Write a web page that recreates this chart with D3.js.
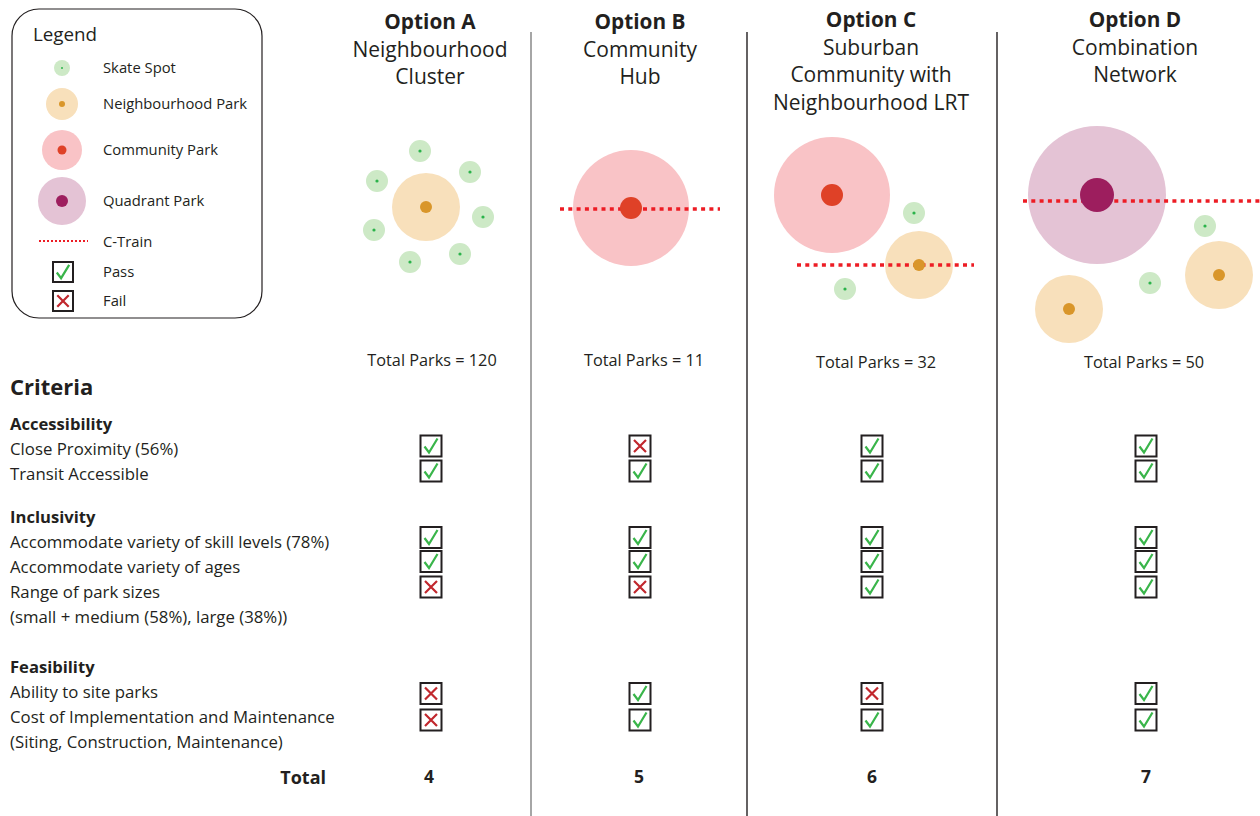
<!DOCTYPE html>
<html><head><meta charset="utf-8">
<script src="https://cdn.jsdelivr.net/npm/d3@7"></script>
<style>body{margin:0;background:#fff} svg{display:block} text{font-family:"Open Sans",sans-serif;fill:#231f20}</style>
</head><body><svg id="c" width="1260" height="816"></svg>
<script>
// ---------- DATA ----------
const options = ["Option A", "Option B", "Option C", "Option D"];
const optionSubtitles = [
  ["Neighbourhood", "Cluster"],
  ["Community", "Hub"],
  ["Suburban", "Community with", "Neighbourhood LRT"],
  ["Combination", "Network"]
];
const totalParks = [120, 11, 32, 50];
const totals = [4, 5, 6, 7];
const criteriaGroups = ["Accessibility", "Inclusivity", "Feasibility"];
const criteria = [
  { group: 0, label: "Close Proximity (56%)" },
  { group: 0, label: "Transit Accessible" },
  { group: 1, label: "Accommodate variety of skill levels (78%)" },
  { group: 1, label: "Accommodate variety of ages" },
  { group: 1, label: "Range of park sizes", note: "(small + medium (58%), large (38%))" },
  { group: 2, label: "Ability to site parks" },
  { group: 2, label: "Cost of Implementation and Maintenance", note: "(Siting, Construction, Maintenance)" }
];
// 1 = Pass, 0 = Fail  (rows = options, cols = criteria)
const results = [
  [1, 1, 1, 1, 0, 0, 0],
  [0, 1, 1, 1, 0, 1, 1],
  [1, 1, 1, 1, 1, 0, 1],
  [1, 1, 1, 1, 1, 1, 1]
];
const parkTypes = ["Skate Spot", "Neighbourhood Park", "Community Park", "Quadrant Park"];
// schematic park layout per option, in diagram units (x: offset from column centre, y: diagram row)
const parkLayouts = [
  [{t:1,x:-5,y:207},{t:0,x:-11,y:151},{t:0,x:39,y:172},{t:0,x:-54,y:181},{t:0,x:52,y:217},{t:0,x:-57,y:230},{t:0,x:29,y:254},{t:0,x:-21,y:262}],
  [{t:2,x:-9,y:208}],
  [{t:2,x:-40,y:195},{t:0,x:42,y:213},{t:1,x:47,y:265},{t:0,x:-27,y:289}],
  [{t:3,x:-49,y:195},{t:0,x:59,y:226},{t:1,x:73,y:275},{t:0,x:4,y:283},{t:1,x:-77,y:309}]
];
const cTrainLines = [null, {x1:-80,x2:80,y:209}, {x1:-75,x2:102,y:265}, {x1:-123,x2:114,y:201}];

// ---------- STYLE / LAYOUT ----------
const svg = d3.select("#c");
const fillColors = ["#cde9c6", "#f8e0bb", "#f9c3c6", "#e4c3d5"];
const dotColors = ["#2bb34a", "#d9962a", "#df4127", "#9d1e5e"];
const outerR = [11, 34, 58, 69], innerR = [1.6, 6, 11, 17];
const legendOuterR = [8, 16, 20, 24], legendInnerR = [1, 3, 4.5, 6];
const green = "#39b54a", red = "#c1272d";

const colX = d3.scaleOrdinal().domain(options).range([431, 640, 872, 1146]);
const titleX = d3.scaleOrdinal().domain(options).range([430, 640, 871, 1135]);
const dividers = [531, 747, 997];
const diagX = d3.scaleLinear().domain([-200, 200]).range([-200, 200]);
const diagY = d3.scaleLinear().domain([0, 816]).range([0, 816]);

// dividers
svg.selectAll("line.div").data(dividers).join("line")
  .attr("x1", d => d).attr("x2", d => d).attr("y1", 32).attr("y2", 816)
  .attr("stroke", (d, i) => i === 0 ? "#808080" : "#231f20").attr("stroke-width", 1.4);

// checkbox helper
function checkbox(g, cx, cy, pass, s) {
  s = s || 21;
  g.append("rect").attr("x", cx - s / 2).attr("y", cy - s / 2).attr("width", s).attr("height", s)
    .attr("fill", "#fff").attr("stroke", "#231f20").attr("stroke-width", 2);
  const k = s / 21;
  if (pass) {
    g.append("path").attr("d", `M${cx - 6.5 * k},${cy + 0.5 * k} L${cx - 2 * k},${cy + 6.5 * k} L${cx + 6.5 * k},${cy - 7.5 * k}`)
      .attr("fill", "none").attr("stroke", green).attr("stroke-width", 2.2).attr("stroke-linejoin", "miter");
  } else {
    g.append("path").attr("d", `M${cx - 6 * k},${cy - 6 * k} L${cx + 6 * k},${cy + 6 * k} M${cx + 6 * k},${cy - 6 * k} L${cx - 6 * k},${cy + 6 * k}`)
      .attr("fill", "none").attr("stroke", red).attr("stroke-width", 2.2);
  }
}

// ---------- LEGEND ----------
const lg = svg.append("g");
lg.append("rect").attr("x", 12).attr("y", 9).attr("width", 250).attr("height", 309).attr("rx", 27)
  .attr("fill", "none").attr("stroke", "#231f20").attr("stroke-width", 1.2);
lg.append("text").attr("x", 33).attr("y", 41).attr("font-size", 18.8).text("Legend");
const legendY = [68, 104, 150, 201];
parkTypes.forEach((p, i) => {
  lg.append("circle").attr("cx", 62).attr("cy", legendY[i]).attr("r", legendOuterR[i]).attr("fill", fillColors[i]);
  lg.append("circle").attr("cx", 62).attr("cy", legendY[i]).attr("r", legendInnerR[i]).attr("fill", dotColors[i]);
  lg.append("text").attr("x", 103).attr("y", legendY[i]).attr("dy", "0.35em").attr("font-size", 14.8).text(p);
});
lg.append("line").attr("x1", 39).attr("x2", 88).attr("y1", 241).attr("y2", 241)
  .attr("stroke", "#ed1c24").attr("stroke-width", 2).attr("stroke-dasharray", "2,2");
lg.append("text").attr("x", 103).attr("y", 242).attr("dy", "0.35em").attr("font-size", 14.8).text("C-Train");
checkbox(lg, 63, 272, true, 20);
lg.append("text").attr("x", 103).attr("y", 272).attr("dy", "0.35em").attr("font-size", 14.8).text("Pass");
checkbox(lg, 63, 301, false, 20);
lg.append("text").attr("x", 103).attr("y", 301).attr("dy", "0.35em").attr("font-size", 14.8).text("Fail");

// ---------- OPTION HEADERS & DIAGRAMS ----------
const titleY = [22, 22, 20, 20];
const totalY = [360, 360, 362, 362];
const totalParkX = [432, 644, 876, 1144];
options.forEach((o, i) => {
  const g = svg.append("g");
  const tx = titleX(o);
  g.append("text").attr("x", tx).attr("y", titleY[i]).attr("dy", "0.35em").attr("text-anchor", "middle")
    .attr("font-size", 20.8).attr("font-weight", 700).text(o);
  optionSubtitles[i].forEach((s, j) => {
    g.append("text").attr("x", tx).attr("y", titleY[i] + 27.5 * (j + 1)).attr("dy", "0.35em").attr("text-anchor", "middle")
      .attr("font-size", 21).text(s);
  });
  const cx = colX(o);
  const parks = parkLayouts[i];
  g.selectAll("circle.fill").data(parks).join("circle").attr("class", "fill")
    .attr("cx", d => cx + diagX(d.x)).attr("cy", d => diagY(d.y)).attr("r", d => outerR[d.t]).attr("fill", d => fillColors[d.t]);
  const ct = cTrainLines[i];
  if (ct) {
    g.append("line").attr("x1", cx + diagX(ct.x1)).attr("x2", cx + diagX(ct.x2)).attr("y1", diagY(ct.y)).attr("y2", diagY(ct.y))
      .attr("stroke", "#ed1c24").attr("stroke-width", 3.5).attr("stroke-dasharray", "4,4.3");
  }
  g.selectAll("circle.dot").data(parks).join("circle").attr("class", "dot")
    .attr("cx", d => cx + diagX(d.x)).attr("cy", d => diagY(d.y)).attr("r", d => innerR[d.t]).attr("fill", d => dotColors[d.t]);
  g.append("text").attr("x", totalParkX[i]).attr("y", totalY[i]).attr("dy", "0.35em").attr("text-anchor", "middle")
    .attr("font-size", 16.3).text(`Total Parks = ${totalParks[i]}`);
});

// ---------- CRITERIA ----------
svg.append("text").attr("x", 10).attr("y", 387).attr("dy", "0.35em").attr("font-size", 22).attr("font-weight", 700).text("Criteria");
const groupHeaderY = [424, 517, 667];
const lineStep = 25;
const rowY = [];
criteria.forEach((c, k) => {
  let y = groupHeaderY[c.group];
  criteria.slice(0, k).filter(p => p.group === c.group).forEach(p => { y += lineStep * (p.note ? 2 : 1); });
  y += lineStep;
  rowY.push(y);
});
criteriaGroups.forEach((gname, gi) => {
  svg.append("text").attr("x", 10).attr("y", groupHeaderY[gi]).attr("dy", "0.35em").attr("font-size", 16.6).attr("font-weight", 700).text(gname);
});
criteria.forEach((c, k) => {
  svg.append("text").attr("x", 10).attr("y", rowY[k]).attr("dy", "0.35em").attr("font-size", 16.8).text(c.label);
  if (c.note) svg.append("text").attr("x", 10).attr("y", rowY[k] + lineStep).attr("dy", "0.35em").attr("font-size", 16.8).text(c.note);
});
const checkOffset = [-3, -3, -4.5, -5.5, -5, 1.5, 3];
results.forEach((r, i) => {
  const g = svg.append("g");
  r.forEach((v, k) => checkbox(g, colX(options[i]), rowY[k] + checkOffset[k], v === 1, 21));
});

// ---------- TOTAL ----------
svg.append("text").attr("x", 326).attr("y", 778).attr("dy", "0.35em").attr("text-anchor", "end")
  .attr("font-size", 18).attr("font-weight", 700).text("Total");
const totalX = [429, 639, 872, 1146];
totals.forEach((t, i) => {
  svg.append("text").attr("x", totalX[i]).attr("y", 777).attr("dy", "0.35em").attr("text-anchor", "middle")
    .attr("font-size", 17.5).attr("font-weight", 700).text(t);
});
</script></body></html>
